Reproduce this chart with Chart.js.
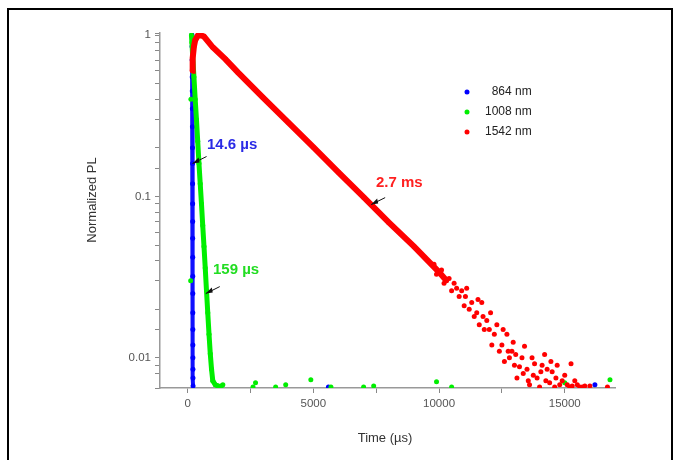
<!DOCTYPE html>
<html>
<head>
<meta charset="utf-8">
<script src="https://cdn.jsdelivr.net/npm/chart.js@4"></script>
<style>
  html, body { margin: 0; padding: 0; background: #fff; }
  #wrap { width: 682px; height: 460px; position: relative; }
</style>
</head>
<body>
<div id="wrap"><canvas id="c" width="682" height="460"></canvas></div>
<script>
// values: [time (µs), normalized PL]
const blue864 = [[170,1],[175,0.85],[178,0.7],[182,0.55],[185,0.45],[188,0.35],[190,0.27],[192,0.2],[195,0.16],[196,0.12],[198,0.09],[200,0.07],[200,0.055],[202,0.042],[203,0.032],[205,0.025],[205,0.019],[207,0.015],[207,0.012],[208,0.01],[210,0.0085],[212,0.0075],[215,0.0067],[5600,0.0066],[16200,0.0068]];
const green1008 = [[150,1],[170,0.9],[200,0.74],[250,0.55],[300,0.4],[350,0.3],[400,0.22],[450,0.16],[500,0.12],[550,0.09],[600,0.066],[650,0.049],[700,0.036],[750,0.026],[800,0.019],[850,0.014],[900,0.0106],[950,0.0085],[1000,0.0072],[1100,0.0068],[1200,0.0067],[1300,0.0066],[1400,0.0068],
  [120,0.03],[130,0.4],[2600,0.0066],[2700,0.007],[3500,0.0066],[3900,0.0068],[4900,0.0073],[5700,0.0066],[7000,0.0066],[7400,0.0067],[9900,0.0071],[10500,0.0066],[15000,0.007],[16800,0.0073]];
const red1542 = [[180,0.6],[200,0.72],[250,0.85],[300,0.93],[400,0.99],[500,1],[650,0.98],[1000,0.84],[1500,0.71],[2000,0.587],[3000,0.41],[4000,0.288],[5000,0.202],[6000,0.141],[7000,0.099],[8000,0.069],[9000,0.049],[10000,0.034],[10300,0.03]];
const redTail = [[9800,0.038],[9900,0.033],[10100,0.035],[10200,0.029],[10400,0.031],[10500,0.026],[10600,0.029],[10700,0.027],[10800,0.024],[10900,0.026],[11000,0.021],[11050,0.024],[11100,0.027],[11200,0.02],[11300,0.022],[11400,0.018],[11500,0.019],[11550,0.023],[11600,0.016],[11700,0.022],[11750,0.018],[11800,0.015],[11900,0.017],[12000,0.015],[12050,0.019],[12100,0.012],[12200,0.014],[12300,0.016],[12400,0.011],[12500,0.012],[12550,0.015],[12600,0.0095],[12700,0.014],[12750,0.011],[12800,0.01],[12900,0.011],[12950,0.0125],[13000,0.009],[13050,0.0105],[13100,0.0075],[13200,0.0088],[13300,0.01],[13350,0.008],[13400,0.0118],[13500,0.0085],[13550,0.0072],[13600,0.0068],[13700,0.01],[13750,0.0078],[13800,0.0092],[13900,0.0075],[14000,0.0066],[14050,0.0082],[14100,0.009],[14200,0.0105],[14250,0.0072],[14300,0.0085],[14400,0.007],[14450,0.0095],[14500,0.0082],[14600,0.0066],[14650,0.0075],[14700,0.009],[14800,0.0068],[14900,0.0072],[15000,0.0078],[15100,0.0068],[15200,0.0066],[15250,0.0092],[15300,0.0067],[15400,0.0072],[15500,0.0068],[15600,0.0066],[15700,0.0066],[15800,0.0067],[16000,0.0067],[16700,0.0066]];
const xTicks = [0, 5000, 10000, 15000];
const yLabels = [1, 0.1, 0.01];

const toPts = a => a.map(p => ({x: p[0], y: p[1]}));

const notes = {
  id: 'notes',
  afterDraw(chart) {
    const c = chart.ctx, xs = chart.scales.x, ys = chart.scales.y;
    c.save();
    // frame
    c.strokeStyle = '#000'; c.lineWidth = 2;
    c.beginPath(); c.moveTo(8, 460); c.lineTo(8, 9); c.lineTo(672, 9); c.lineTo(672, 460); c.stroke();
    // axis titles
    c.fillStyle = '#333'; c.font = '13px "Liberation Sans", Arial';
    c.textAlign = 'center'; c.textBaseline = 'middle';
    c.fillText('Time (\u00b5s)', 385, 438);
    c.save(); c.translate(92, 200); c.rotate(-Math.PI / 2); c.fillText('Normalized PL', 0, 0); c.restore();
    // annotations
    const note = (txt, col, tx, ty, ax, ay) => {
      c.font = 'bold 15px "Liberation Sans", Arial';
      c.fillStyle = col; c.textBaseline = 'middle'; c.textAlign = 'left';
      c.fillText(txt, tx, ty);
      const px = xs.getPixelForValue(ax), py = ys.getPixelForValue(ay);
      c.strokeStyle = '#111'; c.lineWidth = 1;
      c.beginPath(); c.moveTo(px + 14, py - 7); c.lineTo(px, py); c.stroke();
      c.fillStyle = '#111';
      c.beginPath(); c.moveTo(px, py); c.lineTo(px + 6, py - 6); c.lineTo(px + 7, py - 1); c.fill();
    };
    note('14.6 \u00b5s', '#2a2ae6', 207, 145, 195, 0.16);
    note('159 \u00b5s', '#22dd22', 213, 270, 720, 0.025);
    note('2.7 ms', '#ff2020', 376, 183, 7300, 0.089);
    // legend
    const items = [['  864 nm', '#0000ff'], ['1008 nm', '#00ee00'], ['1542 nm', '#ff0000']];
    c.font = '12px "Liberation Sans", Arial';
    items.forEach((it, i) => {
      const y = 92 + i * 20;
      c.fillStyle = it[1]; c.beginPath(); c.arc(467, y, 2.5, 0, Math.PI * 2); c.fill();
      c.fillStyle = '#222'; c.textAlign = 'left'; c.fillText(it[0], 485, y);
    });
    c.restore();
  }
};

const dot = { pointRadius: 2.5, pointBorderWidth: 0 };

new Chart(document.getElementById('c'), {
  type: 'scatter',
  data: {
    datasets: [
      { data: toPts(red1542), showLine: true, borderColor: '#ff0000', borderWidth: 6, backgroundColor: '#ff0000', ...dot },
      { data: toPts(redTail), backgroundColor: '#ff0000', ...dot },
      { data: toPts(green1008.slice(0, 23)), showLine: true, borderColor: '#00ee00', borderWidth: 5, backgroundColor: '#00ee00', ...dot },
      { data: toPts(green1008.slice(23)), backgroundColor: '#00ee00', ...dot },
      { data: toPts(blue864.slice(0, 23)), showLine: true, borderColor: '#1010ff', borderWidth: 4, backgroundColor: '#0000ff', ...dot },
      { data: toPts(blue864.slice(23)), backgroundColor: '#0000ff', ...dot }
    ]
  },
  options: {
    responsive: false,
    animation: false,
    layout: { padding: { left: 0, top: 33, right: 67, bottom: 0 } },
    plugins: { legend: { display: false }, tooltip: { enabled: false } },
    scales: {
      x: {
        type: 'linear', min: -1100, max: 17000,
        afterBuildTicks: s => { s.ticks = [0, 2500, 5000, 7500, 10000, 12500, 15000].map(v => ({value: v})); },
        afterFit: s => { s.height = 72; },
        ticks: { callback: v => xTicks.includes(v) ? String(v) : '', color: '#555', font: { family: 'Liberation Sans', size: 11.5 }, maxRotation: 0, autoSkip: false, padding: 4 },
        grid: { drawOnChartArea: false, tickLength: 5, color: '#888' },
        border: { color: '#999', width: 1.5 }
      },
      y: {
        type: 'logarithmic', min: 0.0065, max: 1.03,
        afterFit: s => { s.width = 160; },
        ticks: { callback: v => yLabels.includes(Number(v.toPrecision(3))) ? String(Number(v.toPrecision(3))) : '', color: '#555', font: { family: 'Liberation Sans', size: 11.5 }, autoSkip: false, padding: 4 },
        grid: { drawOnChartArea: false, tickLength: 5, color: '#888' },
        border: { color: '#999', width: 1.5 }
      }
    }
  },
  plugins: [notes]
});
</script>
</body>
</html>
